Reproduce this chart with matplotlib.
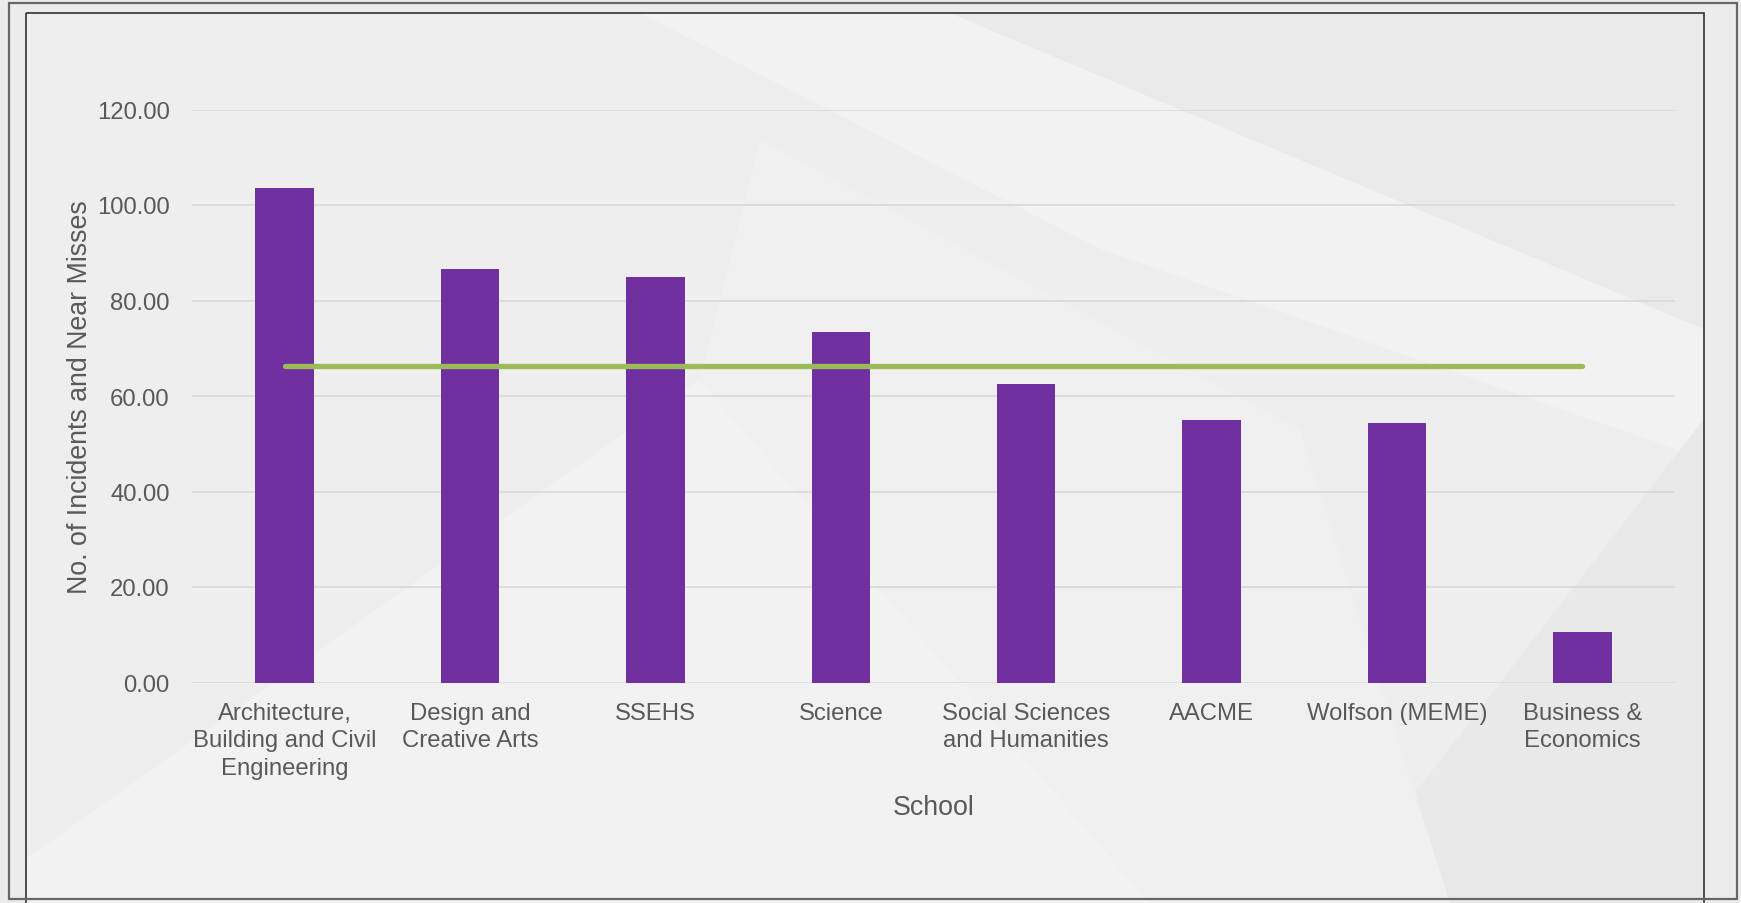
import matplotlib
matplotlib.use("Agg")
import matplotlib.pyplot as plt
from matplotlib.patches import Rectangle, Polygon
import numpy as np

plt.rcParams['font.family'] = ['Liberation Sans', 'DejaVu Sans']

schools = ["Architecture,\nBuilding and Civil\nEngineering", "Design and\nCreative Arts", "SSEHS",
           "Science", "Social Sciences\nand Humanities", "AACME", "Wolfson (MEME)",
           "Business &\nEconomics"]
incidents = [103.5, 86.7, 84.9, 73.3, 62.5, 55.0, 54.3, 10.6]
average = [66.35] * len(schools)
yticks = [0, 20, 40, 60, 80, 100, 120]

W, H = 1741, 904
fig = plt.figure(figsize=(W / 100, H / 100), dpi=100)
fig.patch.set_facecolor('#ECECEC')

# background panel with subtle shapes
bg = fig.add_axes([0, 0, 1, 1], zorder=-10)
bg.set_xlim(0, W); bg.set_ylim(H, 0); bg.axis('off')
bg.add_patch(Rectangle((26, 14), 1678, 900, facecolor='#EEEEEE', edgecolor='none'))
bg.add_patch(Polygon([(640, 14), (950, 14), (1704, 330), (1704, 460), (1100, 250)],
                     facecolor='#F2F2F2', edgecolor='none'))
bg.add_patch(Polygon([(950, 14), (1704, 14), (1704, 330)], facecolor='#EAEAEA', edgecolor='none'))
bg.add_patch(Polygon([(26, 860), (700, 380), (1150, 904), (26, 904)], facecolor='#F2F2F2', edgecolor='none'))
bg.add_patch(Polygon([(1330, 904), (1704, 420), (1704, 904)], facecolor='#E9E9E9', edgecolor='none'))
bg.add_patch(Polygon([(760, 140), (1300, 430), (1450, 904), (1150, 904), (700, 380)],
                     facecolor='#F0F0F0', edgecolor='none'))
bg.add_patch(Rectangle((26, 14), 1678, 920, facecolor='none', edgecolor='#333333', linewidth=1.2))
bg.add_patch(Rectangle((9, 4), 1728, 896, facecolor='none', edgecolor='#666666', linewidth=1.6))

left, right = 192 / W, 1675 / W
bottom, top = 1 - 683.5 / H, 1 - 110.5 / H
ax = fig.add_axes([left, bottom, right - left, top - bottom])
ax.patch.set_alpha(0)

x = np.arange(len(schools))
ax.bar(x, incidents, width=0.315, color='#7030A0', zorder=3)
ax.plot(x, average, color='#9BBB59', linewidth=3.8, solid_capstyle='round', zorder=4)

ax.set_xlim(-0.5, len(schools) - 0.5)
ax.set_ylim(0, 120)
ax.set_yticks(yticks)
ax.set_yticklabels([f"{v:.2f}" for v in yticks])
ax.set_xticks(x)
ax.set_xticklabels(schools, linespacing=1.32)
ax.grid(axis='y', color='#D9D9D9', linewidth=1.2, zorder=0)
ax.set_axisbelow(True)
for s in ax.spines.values():
    s.set_visible(False)
ax.tick_params(axis='both', length=0, colors='#595959', labelsize=17.2)
ax.tick_params(axis='y', pad=16)
ax.tick_params(axis='x', pad=14)
ax.set_ylabel("No. of Incidents and Near Misses", fontsize=19.3, color='#595959', labelpad=3)
ax.set_xlabel("School", fontsize=19.3, color='#595959', labelpad=11)

fig.savefig("out.png", dpi=100, facecolor=fig.get_facecolor())
